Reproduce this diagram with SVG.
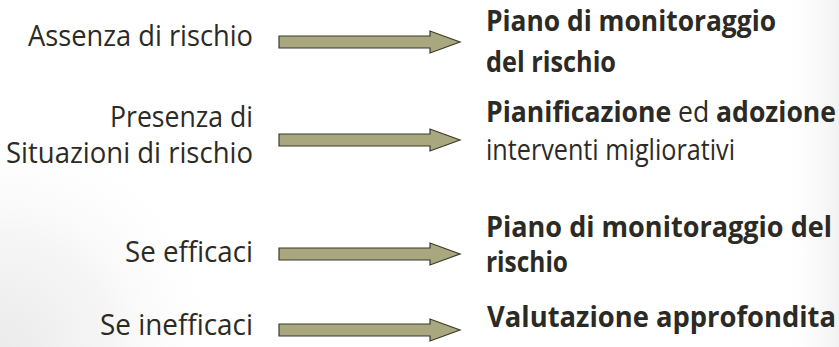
<svg xmlns="http://www.w3.org/2000/svg" width="839" height="347" viewBox="0 0 839 347">
<defs>
<style>
text{font-family:"Open Sans","Noto Sans","Liberation Sans",sans-serif;font-size:29px;fill:#2c2a24}
.l{text-anchor:end}
.b{font-weight:bold}
.arrow{fill:#a9a77d;stroke:#3b3a30;stroke-width:1.2;stroke-linejoin:miter}
</style>
<radialGradient id="bl" cx="0" cy="347" r="230" gradientUnits="userSpaceOnUse">
<stop offset="0" stop-color="#ebebeb"/>
<stop offset="0.5" stop-color="#f6f6f6"/>
<stop offset="1" stop-color="#ffffff" stop-opacity="0"/>
</radialGradient>
<linearGradient id="rt" x1="780" y1="0" x2="839" y2="0" gradientUnits="userSpaceOnUse">
<stop offset="0" stop-color="#ffffff" stop-opacity="0"/>
<stop offset="1" stop-color="#f1f1f1"/>
</linearGradient>
</defs>
<rect width="839" height="347" fill="#ffffff"/>
<rect width="839" height="347" fill="url(#bl)"/>
<rect x="780" y="0" width="59" height="347" fill="url(#rt)"/>

<g id="node-assenza"><text class="l" x="253" y="46" textLength="225" lengthAdjust="spacingAndGlyphs">Assenza di rischio</text></g>
<g id="node-presenza">
<text class="l" x="253" y="127" textLength="143" lengthAdjust="spacingAndGlyphs">Presenza di</text>
<text class="l" x="253" y="163" textLength="247" lengthAdjust="spacingAndGlyphs">Situazioni di rischio</text>
</g>
<g id="node-efficaci"><text class="l" x="253" y="262" textLength="128" lengthAdjust="spacingAndGlyphs">Se efficaci</text></g>
<g id="node-inefficaci"><text class="l" x="253" y="335" textLength="153" lengthAdjust="spacingAndGlyphs">Se inefficaci</text></g>

<g id="node-piano1">
<text class="b" x="486" y="31" textLength="290" lengthAdjust="spacingAndGlyphs">Piano di monitoraggio</text>
<text class="b" x="486" y="72" textLength="130" lengthAdjust="spacingAndGlyphs">del rischio</text>
</g>
<g id="node-pianificazione">
<text x="486" y="122" textLength="350" lengthAdjust="spacingAndGlyphs"><tspan class="b">Pianificazione</tspan> ed <tspan class="b">adozione</tspan></text>
<text x="486" y="160" textLength="249" lengthAdjust="spacingAndGlyphs">interventi migliorativi</text>
</g>
<g id="node-piano2">
<text class="b" x="486" y="237" textLength="346" lengthAdjust="spacingAndGlyphs">Piano di monitoraggio del</text>
<text class="b" x="486" y="272" textLength="82" lengthAdjust="spacingAndGlyphs">rischio</text>
</g>
<g id="node-valutazione"><text class="b" x="487" y="327" textLength="349" lengthAdjust="spacingAndGlyphs">Valutazione approfondita</text></g>

<g id="connectors">
<path class="arrow" d="M279,36 H430 V31 L460,42 L430,53 V48 H279 Z"/>
<path class="arrow" d="M279,134 H430 V129 L460,140 L430,151 V146 H279 Z"/>
<path class="arrow" d="M279,248 H430 V243 L460,254 L430,265 V260 H279 Z"/>
<path class="arrow" d="M279,324 H430 V319 L460,330 L430,341 V336 H279 Z"/>
</g>
</svg>
